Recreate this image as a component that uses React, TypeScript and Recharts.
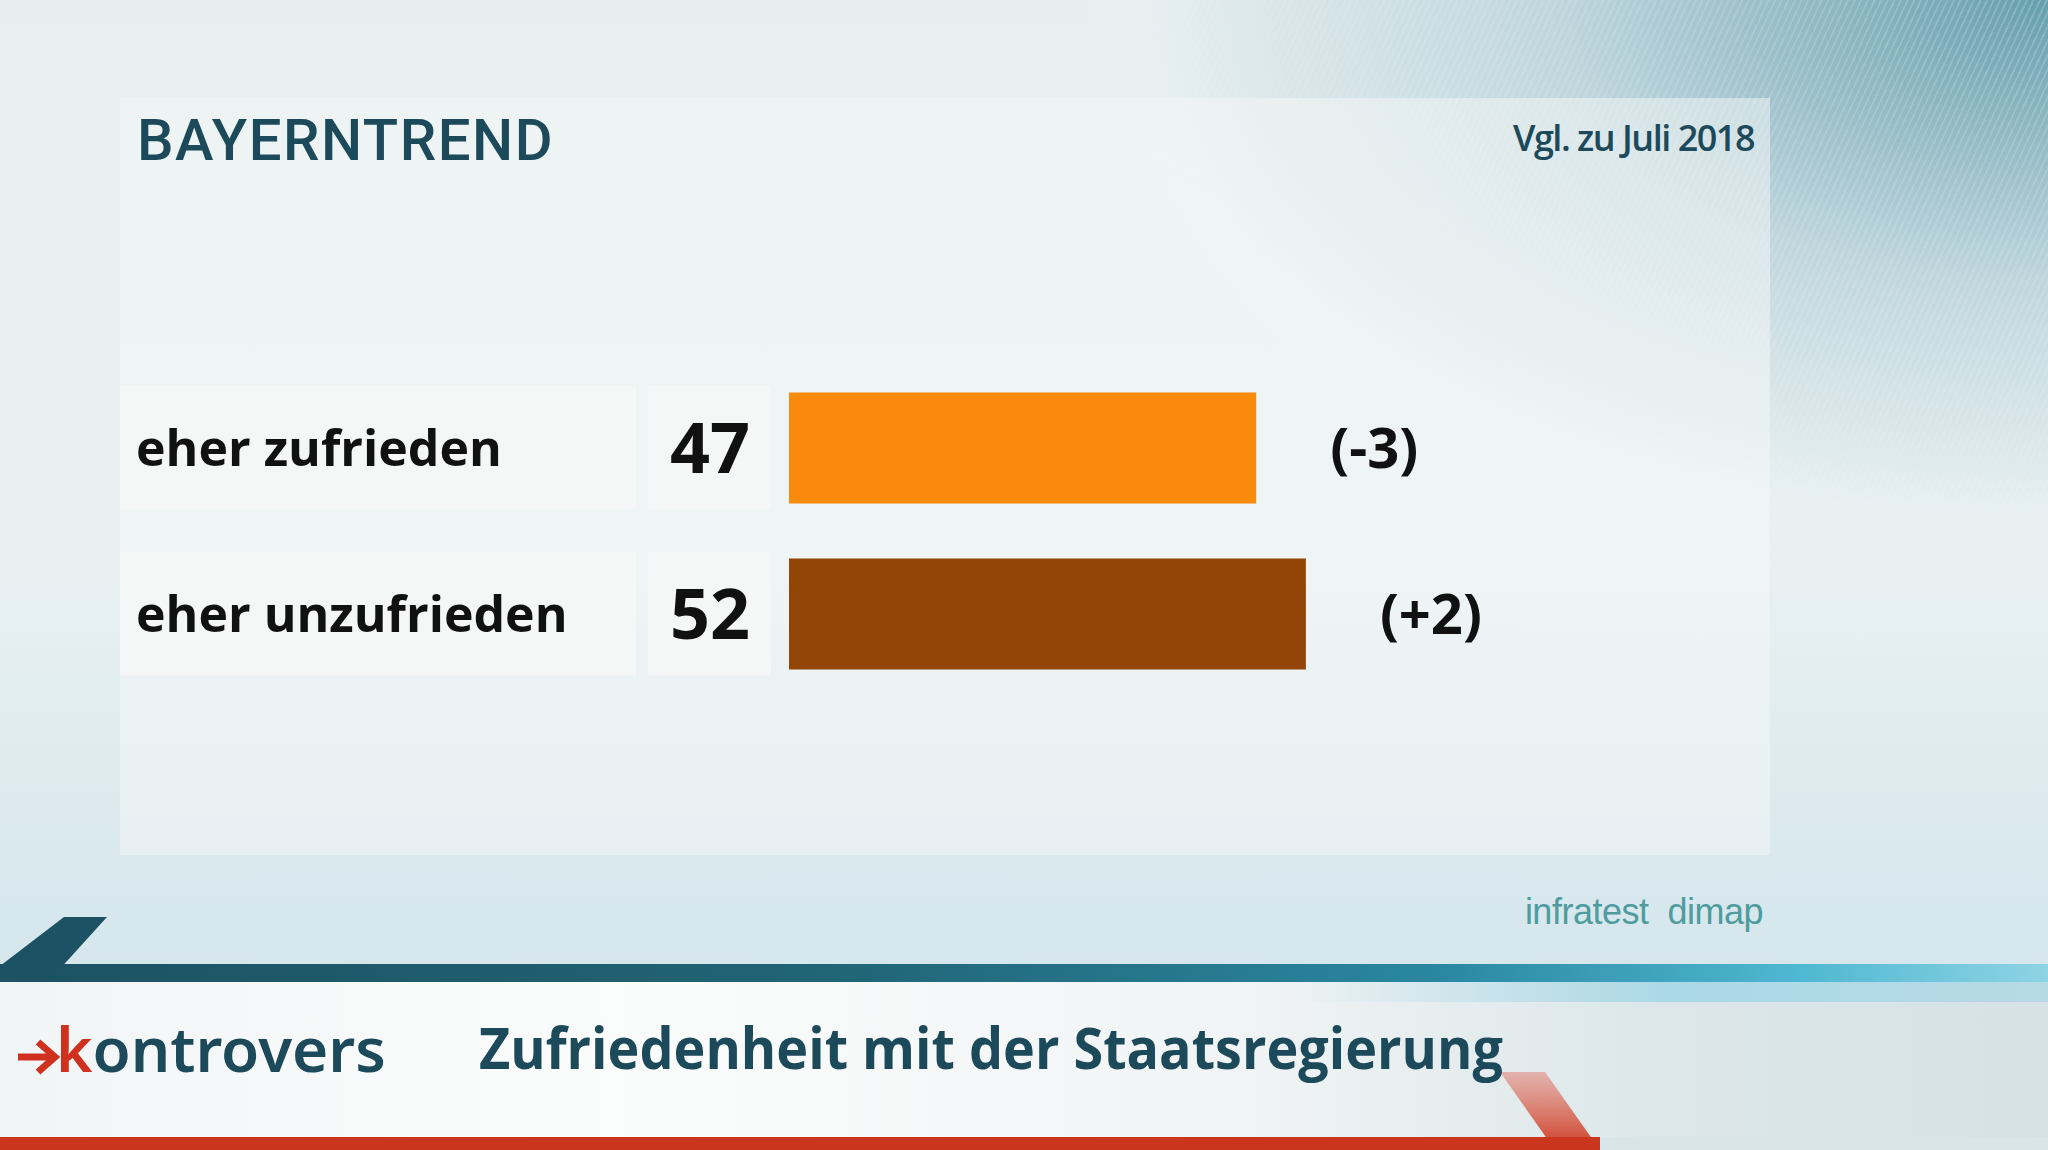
import React from "react";
import { BarChart, Bar, XAxis, YAxis, Cell, LabelList } from "recharts";

const categories = ["eher zufrieden", "eher unzufrieden"];
const values = [47, 52];
const changes = ["(-3)", "(+2)"];
const barColors = ["#f98a0c", "#924507"];

const data = categories.map((name, i) => ({ name, value: values[i], change: changes[i] }));

const W = 2048;
const H = 1150;

const LabelTick = (props: any) => {
  const { y, payload, index } = props;
  const cy = y;
  return (
    <g>
      <rect x={120} y={cy - 62} width={516} height={124} fill="#f5f6f6" />
      <rect x={648} y={cy - 62} width={123} height={124} fill="#f5f6f6" />
      <text
        x={136}
        y={cy - 1}
        dominantBaseline="central"
        fontFamily="'Open Sans', sans-serif"
        fontWeight={700}
        fontSize={50}
        fill="#111"
      >
        {payload.value}
      </text>
      <text
        x={710}
        y={cy - 2}
        textAnchor="middle"
        dominantBaseline="central"
        fontFamily="'Open Sans', sans-serif"
        fontWeight={700}
        fontSize={70}
        fill="#111"
      >
        {values[index]}
      </text>
    </g>
  );
};

const ChangeLabel = (props: any) => {
  const { x, y, width, height, value } = props;
  return (
    <text
      x={x + width + 74}
      y={y + height / 2 - 2}
      dominantBaseline="central"
      fontFamily="'Open Sans', sans-serif"
      fontWeight={700}
      fontSize={56}
      fill="#111"
    >
      {value}
    </text>
  );
};

export default function App() {
  return (
    <div
      style={{
        position: "absolute",
        left: 0,
        top: 0,
        width: W,
        height: H,
        overflow: "hidden",
        background:
          "radial-gradient(ellipse 900px 520px at 100% 0%, rgba(80,145,162,0.85), rgba(120,170,185,0.35) 55%, rgba(200,220,226,0) 100%), linear-gradient(180deg, #e6eef0 0%, #e8f0f2 50%, #d6e7ed 80%, #d8e6ea 100%)",
        fontFamily: "'Open Sans', sans-serif",
      }}
    >
      {/* hatching */}
      <div
        style={{
          position: "absolute",
          inset: 0,
          background:
            "repeating-linear-gradient(115deg, rgba(255,255,255,0.18) 0px, rgba(255,255,255,0.18) 2px, rgba(0,0,0,0) 2px, rgba(0,0,0,0) 6px)",
          WebkitMaskImage: "radial-gradient(ellipse 1400px 900px at 100% 0%, #000 0%, rgba(0,0,0,0) 100%)",
          maskImage: "radial-gradient(ellipse 1400px 900px at 100% 0%, #000 0%, rgba(0,0,0,0) 100%)",
        }}
      />
      {/* panel */}
      <div
        style={{
          position: "absolute",
          left: 120,
          top: 98,
          width: 1650,
          height: 757,
          background: "rgba(245,248,248,0.5)",
        }}
      />
      {/* header */}
      <div
        style={{
          position: "absolute",
          left: 137,
          top: 108,
          fontFamily: "Roboto, sans-serif",
          fontWeight: 500,
          fontSize: 58,
          lineHeight: "64px",
          color: "#1d4a5b",
          letterSpacing: 1.5,
        }}
      >
        BAYERNTREND
      </div>
      <div
        style={{
          position: "absolute",
          right: 2048 - 1754,
          top: 116,
          fontFamily: "'Open Sans', sans-serif",
          fontWeight: 600,
          fontSize: 36,
          lineHeight: "44px",
          color: "#1d4a5b",
          letterSpacing: -1.5,
        }}
      >
        Vgl. zu Juli 2018
      </div>
      {/* source */}
      <div
        style={{
          position: "absolute",
          right: 2048 - 1763,
          top: 890,
          fontFamily: "'Liberation Sans', Arial, sans-serif",
          fontSize: 36,
          lineHeight: "44px",
          color: "#4f9c9f",
          letterSpacing: -0.5,
        }}
      >
        infratest&nbsp; dimap
      </div>
      {/* bottom band */}
      <div
        style={{
          position: "absolute",
          left: 0,
          top: 982,
          width: W,
          height: 155,
          background: "linear-gradient(90deg, #f2f5f6 0%, #fbfcfc 30%, #f1f4f5 60%, #dde7ea 80%, #d6e2e6 100%)",
        }}
      />
      <div
        style={{
          position: "absolute",
          left: 1300,
          top: 982,
          width: 748,
          height: 20,
          background: "linear-gradient(90deg, rgba(150,210,228,0) 0%, rgba(150,210,228,0.7) 50%, rgba(150,210,228,0.5) 100%)",
        }}
      />
      <div
        style={{
          position: "absolute",
          left: 0,
          top: 964,
          width: W,
          height: 18,
          background: "linear-gradient(90deg, #1c5263 0%, #216475 40%, #2a86a0 70%, #4fb8d2 88%, #8fd3e4 100%)",
        }}
      />
      <svg style={{ position: "absolute", left: 0, top: 0 }} width={W} height={H}>
        <defs>
          <linearGradient id="redSlant" x1="0" y1="0" x2="0" y2="1">
            <stop offset="0%" stopColor="#e07a6a" stopOpacity={0.5} />
            <stop offset="100%" stopColor="#cf3a22" stopOpacity={1} />
          </linearGradient>
        </defs>
        <polygon points="64,917 107,917 48,982 0,982 0,966" fill="#1c5263" />
        <polygon points="1500,1072 1545,1072 1600,1150 1555,1150" fill="url(#redSlant)" />
        <rect x={0} y={1137} width={1600} height={13} fill="#c9351d" />
        {/* logo arrow */}
        <path d="M18,1057 L52,1057" stroke="#d0301e" strokeWidth={7} />
        <path d="M38,1042 L55,1057 L38,1072" stroke="#d0301e" strokeWidth={7} fill="none" />
      </svg>
      {/* logo */}
      <div
        style={{
          position: "absolute",
          left: 56,
          top: 1012,
          fontFamily: "'Noto Sans', sans-serif",
          fontWeight: 600,
          fontSize: 62,
          lineHeight: "72px",
          color: "#1d4a5b",
          letterSpacing: 0,
        }}
      >
        <span style={{ color: "#d0301e" }}>k</span>ontrovers
      </div>
      {/* title */}
      <div
        style={{
          position: "absolute",
          left: 479,
          top: 1012,
          fontFamily: "'Open Sans', sans-serif",
          fontWeight: 700,
          fontSize: 58,
          lineHeight: "70px",
          color: "#1d4a5b",
          whiteSpace: "nowrap",
          transformOrigin: "left top",
          transform: "scaleX(0.93)",
        }}
      >
        Zufriedenheit mit der Staatsregierung
      </div>
      <div style={{ position: "absolute", left: 0, top: 0 }}>
        <BarChart
          width={W}
          height={H}
          data={data}
          layout="vertical"
          margin={{ top: 364.5, bottom: 453.5, left: 120, right: 265 }}
        >
          <XAxis type="number" domain={[0, 100]} hide height={0} />
          <YAxis
            type="category"
            dataKey="name"
            width={669}
            axisLine={false}
            tickLine={false}
            tick={<LabelTick />}
          />
          <Bar dataKey="value" barSize={111} isAnimationActive={false}>
            {data.map((d, i) => (
              <Cell key={d.name} fill={barColors[i]} />
            ))}
            <LabelList dataKey="change" content={<ChangeLabel />} />
          </Bar>
        </BarChart>
      </div>
    </div>
  );
}
